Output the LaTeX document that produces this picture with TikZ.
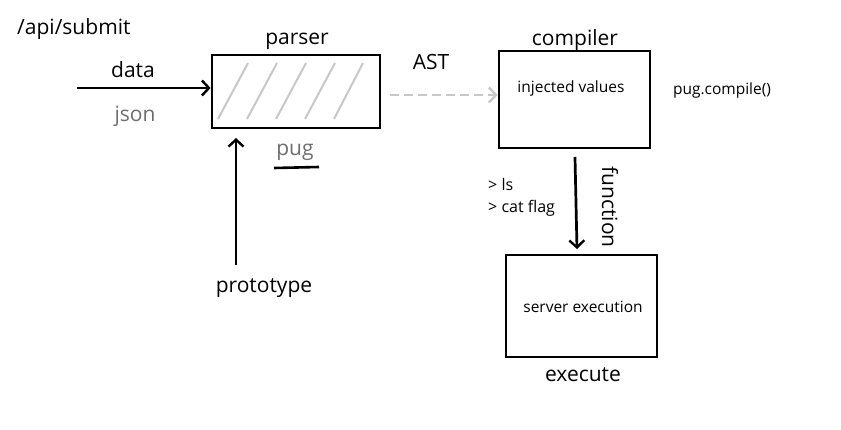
\documentclass[tikz,border=0pt]{standalone}
\usepackage{fontspec}
\setmainfont{Open Sans}
\usetikzlibrary{arrows.meta}
\definecolor{txtgray}{HTML}{6E6E6E}
\definecolor{hatch}{HTML}{C8C8C8}
\tikzset{
  box/.style={draw=black, line width=2.8pt, inner sep=0pt},
  big/.style={font=\fontsize{21}{24}\selectfont, inner sep=0pt},
  small/.style={font=\fontsize{15.5}{18}\selectfont, inner sep=0pt},
  tiny/.style={font=\fontsize{16}{22}\selectfont, inner sep=0pt, align=left},
  flow/.style={line width=2.7pt, -{Straight Barb[length=7pt,width=15pt,line width=2.4pt]}},
  dflow/.style={hatch, line width=2.6pt, dash pattern=on 9pt off 5pt, -{Straight Barb[length=7pt,width=15pt,line width=2.4pt]}},
}
\begin{document}
\begin{tikzpicture}[x=1pt,y=-1pt]
\useasboundingbox[fill=white] (0,0) rectangle (841,430);
% boxes
\node[box, minimum width=168pt, minimum height=73pt] (parser) at (296,91.5) {};
\node[box, minimum width=151pt, minimum height=97pt] (compiler) at (574.5,99.5) {};
\node[box, minimum width=151pt, minimum height=102pt] (server) at (581.5,306) {};
% hatch
\foreach \b/\t in {218/248, 247/277, 276/306, 305/335, 334/363}
  \draw[hatch, line width=2pt] (\b,119) -- (\t,63);
% labels
\node[big, anchor=west] (api) at (17,29) {/api/submit};
\node[big] (parserlbl) at (297,41) {parser};
\node[big] (data) at (133,70) {data};
\node[big, text=txtgray] (json) at (135,116) {json};
\node[big, text=txtgray] (pug) at (295,152) {pug};
\node[big] (proto) at (264,288) {prototype};
\node[big] (ast) at (431,62) {AST};
\node[big] (complbl) at (575,40) {compiler};
\node[small] (inj) at (571,88) {injected values};
\node[small] (pugc) at (722,90) {pug.compile()};
\node[small] (srvtxt) at (583,307) {server execution};
\node[big] (exec) at (583,375) {execute};
\node[big, rotate=-90] (func) at (610,207) {function};
\node[tiny, anchor=north west] (cmds) at (488,178) {> ls\\> cat flag};
% connector endpoints
\coordinate (din) at (77,88);
\coordinate (pbot) at (236,265);
\coordinate (ul1) at (274,168);
\coordinate (ul2) at (319,167);
% connectors
\draw[flow] (din) -- (parser.west |- din);
\draw[flow] (pbot) -- (236,138);
\draw[dflow] (390,95) -- (compiler.west |- 0,95);
\draw[flow] (575,157) -- (577,249);
\draw[line width=2.6pt] (ul1) -- (ul2);
\end{tikzpicture}
\end{document}
